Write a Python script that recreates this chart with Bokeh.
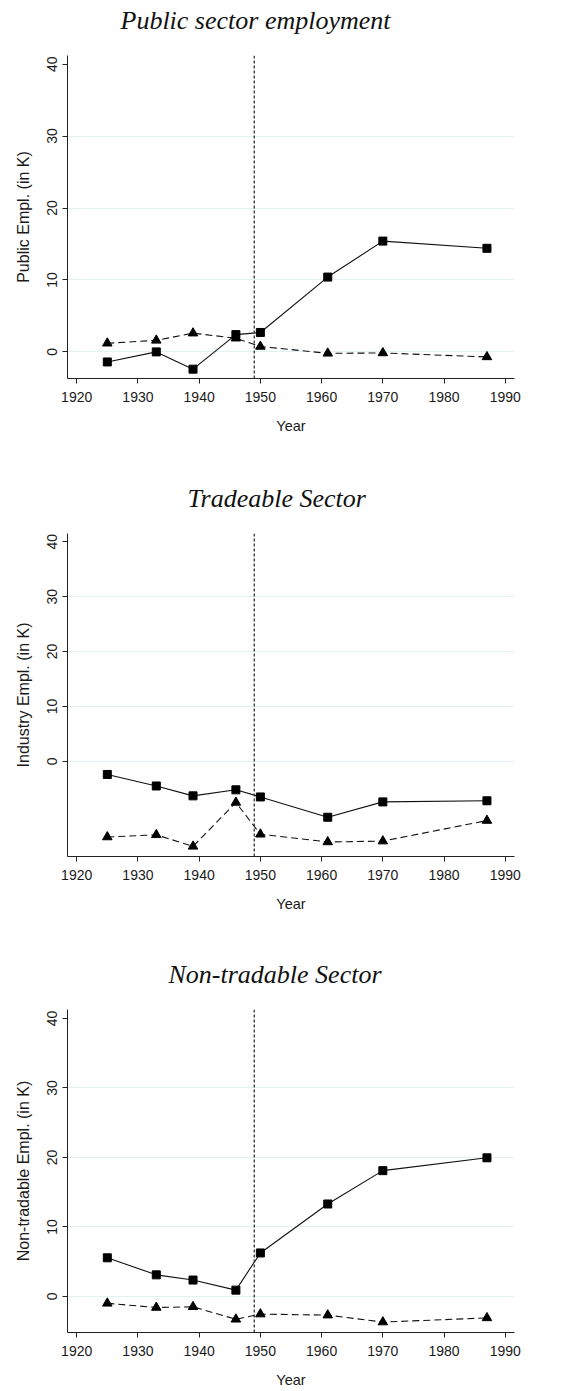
from bokeh.plotting import figure
from bokeh.layouts import column
from bokeh.models import FixedTicker, Span, Range1d, Title
from bokeh.embed import file_html
from bokeh.resources import INLINE

# ---- data ----
years = [1925, 1933, 1939, 1946, 1950, 1961, 1970, 1987]

public_sq = [-1.4, 0.0, -2.4, 2.4, 2.7, 10.4, 15.4, 14.4]
public_tri = [1.2, 1.6, 2.6, 1.9, 0.75, -0.2, -0.15, -0.7]

trade_sq = [-2.4, -4.5, -6.3, -5.2, -6.5, -10.2, -7.4, -7.2]
trade_tri = [-13.8, -13.4, -15.5, -7.5, -13.3, -14.7, -14.55, -10.8]

nontrade_sq = [5.55, 3.1, 2.35, 0.9, 6.25, 13.3, 18.1, 19.95]
nontrade_tri = [-1.0, -1.6, -1.5, -3.3, -2.55, -2.7, -3.7, -3.1]

titles = ["Public sector employment", "Tradeable Sector", "Non-tradable Sector"]
ylabels = ["Public Empl. (in K)", "Industry Empl. (in K)", "Non-tradable Empl. (in K)"]
xlabel = "Year"
x_ticks = [1920, 1930, 1940, 1950, 1960, 1970, 1980, 1990]
y_ticks = [0, 10, 20, 30, 40]
grid_ticks = [0, 10, 20, 30]
reform_year = 1949

TEXT = "#1a1a1a"
FRAME_H = 323


def panel(title, ylabel, sq, tri, yr, top_border, bottom_border, title_offset):
    height = top_border + FRAME_H + bottom_border
    p = figure(width=564, height=height, output_backend="svg",
               toolbar_location=None, x_range=Range1d(1918.5, 1991.5),
               y_range=Range1d(*yr), min_border_left=67, min_border_right=50,
               min_border_top=top_border, min_border_bottom=bottom_border)
    p.outline_line_color = None
    p.background_fill_color = "white"
    p.border_fill_color = "white"

    # spacer between the frame and the title, then the title itself
    p.add_layout(Title(text=" ", text_font_size="8px", standoff=10), "above")
    p.add_layout(Title(text=title, text_font="Liberation Serif",
                       text_font_style="italic", text_font_size="26px",
                       text_color="#111111", align="left", offset=title_offset,
                       vertical_align="bottom", standoff=0), "above")

    p.xgrid.visible = False
    p.ygrid.ticker = FixedTicker(ticks=grid_ticks)
    p.ygrid.grid_line_color = "#e6eff1"
    p.ygrid.grid_line_width = 1

    p.xaxis.ticker = FixedTicker(ticks=x_ticks)
    p.yaxis.ticker = FixedTicker(ticks=y_ticks)
    p.xaxis.minor_tick_line_color = None
    p.yaxis.minor_tick_line_color = None
    for ax in (p.xaxis, p.yaxis):
        ax.axis_line_color = "#222222"
        ax.major_tick_line_color = "#222222"
        ax.major_tick_out = 5
        ax.major_tick_in = 0
        ax.major_label_text_font = "Liberation Sans"
        ax.major_label_text_font_size = "14px"
        ax.major_label_text_color = TEXT
        ax.axis_label_text_font = "Liberation Sans"
        ax.axis_label_text_font_style = "normal"
        ax.axis_label_text_color = TEXT
    p.xaxis.axis_label = xlabel
    p.xaxis.axis_label_text_font_size = "14.5px"
    p.xaxis.major_label_standoff = 8
    p.xaxis.axis_label_standoff = 13
    p.yaxis.axis_label = ylabel
    p.yaxis.axis_label_text_font_size = "16px"
    p.yaxis.major_label_orientation = "vertical"
    p.yaxis.major_label_standoff = 5
    p.yaxis.axis_label_standoff = 13

    p.add_layout(Span(location=reform_year, dimension="height",
                      line_color="#333333", line_width=1.3, line_dash="3 2"))

    p.line(years, tri, line_color="#111111", line_width=1.1, line_dash="7 4")
    p.scatter(years, tri, marker="triangle", size=9.5,
              fill_color="black", line_color="black")
    p.line(years, sq, line_color="#111111", line_width=1.1)
    p.scatter(years, sq, marker="square", size=8,
              fill_color="black", line_color="black")
    return p


p1 = panel(titles[0], ylabels[0], public_sq, public_tri, (-3.7, 41.2), 55, 100, 53)
p2 = panel(titles[1], ylabels[1], trade_sq, trade_tri, (-17.35, 41.5), 55, 99, 120)
p3 = panel(titles[2], ylabels[2], nontrade_sq, nontrade_tri, (-5.2, 41.3), 54, 59, 101)

layout = column(p1, p2, p3, spacing=0)

open("out.html", "w").write(file_html(layout, INLINE))
